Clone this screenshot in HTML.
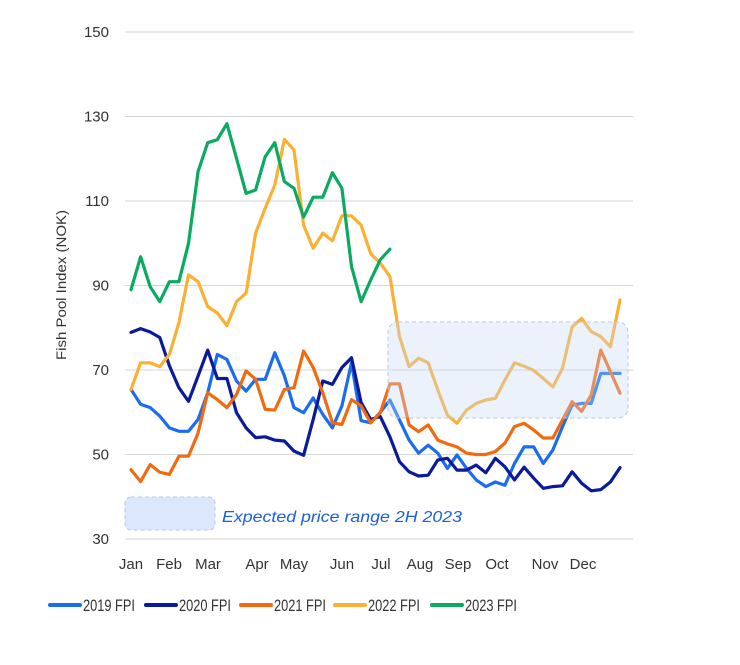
<!DOCTYPE html>
<html><head><meta charset="utf-8"><style>
html,body{margin:0;padding:0;background:#fff;}
svg{display:block;font-family:"Liberation Sans",sans-serif;}
</style></head><body>
<svg id="chart" width="740" height="665" viewBox="0 0 740 665">
<g id="grid"></g>
<g id="ylabels"></g>
<g id="xlabels"></g>
<g id="series"></g>
<rect x="388" y="322" width="240" height="96" rx="10" fill="#c9dbf7" fill-opacity="0.35" stroke="#b9c8e0" stroke-dasharray="4,3"/>
<text x="0" y="0" transform="translate(66,285) rotate(-90)" text-anchor="middle" font-size="14" fill="#333" textLength="150" lengthAdjust="spacingAndGlyphs">Fish Pool Index  (NOK)</text>
<rect x="125" y="497" width="90" height="33" rx="6" fill="#dbe7fb" stroke="#b9c8e0" stroke-dasharray="4,3"/>
<text x="222" y="522" font-size="16" font-style="italic" fill="#1a5ee0" textLength="240" lengthAdjust="spacingAndGlyphs">Expected price range 2H 2023</text>
<g id="legend"></g>
</svg>
<script>
const yTicks=[30,50,70,90,110,130,150];
const months=["Jan","Feb","Mar","Apr","May","Jun","Jul","Aug","Sep","Oct","Nov","Dec"];
const monthX=[131,169,208,257,294,342,381,420,458,497,545,583];
const seriesNames=["2019 FPI","2020 FPI","2021 FPI","2022 FPI","2023 FPI"];
const s2019=[65.4,61.9,61.1,59.1,56.3,55.5,55.5,58.3,64.6,73.7,72.5,67.4,65,67.8,67.8,74.1,68.6,61.1,59.9,63.4,59.5,56.3,61.5,71.7,58,57.5,60,62.9,58.2,53.4,50.3,52.2,50.3,46.7,49.9,46.7,44,42.4,43.5,42.7,47.9,51.8,51.8,47.9,51.1,56.6,61.7,62.1,62.1,69.2,69.2,69.2];
const s2020=[78.9,79.8,79,77.7,71,65.8,62.6,68.6,74.7,68,68,59.9,56.3,54,54.2,53.4,53.2,50.8,49.8,58.3,67.4,66.6,70.6,72.9,62.3,58.3,59,54.2,48.3,45.9,44.9,45.1,48.7,49.1,46.3,46.3,47.5,45.7,49.1,47.1,44,47,44.4,42,42.4,42.6,45.9,43.2,41.4,41.7,43.5,46.9];
const s2021=[46.4,43.6,47.6,45.8,45.3,49.6,49.6,55.1,64.6,63,61.1,64.2,69.8,67.8,60.7,60.5,65.4,65.8,74.5,70.6,64.6,57.5,57.1,63,61.5,57.5,59.9,66.7,66.7,57,55.4,57,53.4,52.5,51.8,50.3,50,50,50.7,52.7,56.6,57.4,55.8,53.9,53.9,58.2,62.5,60.2,64.1,74.7,69.6,64.5];
const s2022=[65.4,71.7,71.7,70.8,73.7,81.2,92.5,90.9,85,83.5,80.5,86.2,88.2,102.4,108.3,113.8,124.6,122.1,104.3,98.8,102.4,100.6,106.5,106.5,104.3,97.5,95.3,92.1,77.9,70.8,72.8,71.7,65.3,59.3,57.4,60.5,62.1,62.9,63.3,67.6,71.7,70.9,69.9,68,66,70.4,80.2,82.2,79.1,77.9,75.5,86.6];
const s2023=[89,96.8,89.7,86.2,90.9,90.9,100,117,123.8,124.5,128.3,120.1,111.8,112.6,120.5,123.8,114.6,113,106.2,110.9,110.9,116.7,113,94.5,86.2,91.3,96.1,98.6];
const colors=["#1a6cf0","#0a1a9a","#f26a0f","#fbb034","#0aaa60"];
const allSeries=[s2019,s2020,s2021,s2022,s2023];
const NS="http://www.w3.org/2000/svg";
function yScale(v){return 539-(v-30)*(507/120);}
function xScale(i){return 131+i*(489/51);}
function mk(tag,attrs,parent){const e=document.createElementNS(NS,tag);for(const k in attrs)e.setAttribute(k,attrs[k]);parent.appendChild(e);return e;}
const grid=document.getElementById('grid'),yl=document.getElementById('ylabels'),xl=document.getElementById('xlabels'),sg=document.getElementById('series'),lg=document.getElementById('legend');
yTicks.forEach(t=>{
 const l=mk('line',{x1:125,x2:633,y1:yScale(t),y2:yScale(t),stroke:'#d6d6d6','stroke-width':1},grid);
 
 
 const tx=mk('text',{x:109,y:yScale(t)+5,'text-anchor':'end','font-size':15,fill:'#333'},yl);
 tx.textContent=t;
 
 
});
months.forEach((m,i)=>{
 const tx=mk('text',{x:monthX[i],y:569,'text-anchor':'middle','font-size':15,fill:'#333'},xl);
 tx.textContent=m;
 
 
});
allSeries.forEach((s,k)=>{
 const pts=s.map((v,i)=>xScale(i).toFixed(1)+','+yScale(v).toFixed(1)).join(' ');
 const p=mk('polyline',{points:pts,fill:'none',stroke:colors[k],'stroke-width':3.2,'stroke-linejoin':'round','stroke-linecap':'round'},sg);
 
 
});
const legX=[50,146,241,335,432];
seriesNames.forEach((n,k)=>{
 const l=mk('line',{x1:legX[k],x2:legX[k]+30,y1:605,y2:605,stroke:colors[k],'stroke-width':4,'stroke-linecap':'round'},lg);
 
 
 const t=mk('text',{x:legX[k]+33,y:611,'font-size':16.5,fill:'#333',textLength:52,lengthAdjust:'spacingAndGlyphs'},lg);
 t.textContent=n;
 
 
});
</script>
</body></html>
